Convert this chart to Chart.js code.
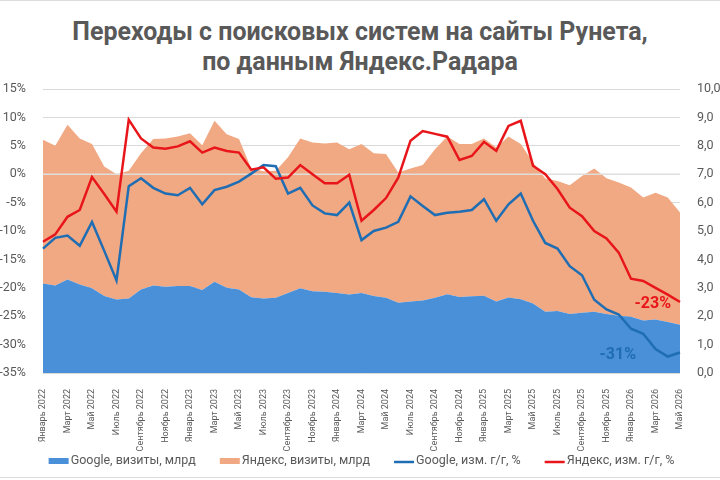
<!DOCTYPE html>
<html lang="ru">
<head>
<meta charset="utf-8">
<title>Переходы с поисковых систем</title>
<script src="https://cdn.jsdelivr.net/npm/chart.js@4.4.1/dist/chart.umd.min.js"></script>
<style>
    html, body { margin: 0; padding: 0; background: #fff; overflow: hidden; }
    body { width: 720px; height: 480px; position: relative; }
    #frame { position: absolute; left: 0; top: 0; width: 720px; height: 478px; border-top: 1px solid #dcdcdc; border-bottom: 1px solid #dcdcdc; box-sizing: border-box; }
    #titulo {
        position: absolute; left: 0; top: 16px; width: 720px; text-align: center;
        font-family: 'Roboto', 'Noto Sans', sans-serif;
        font-weight: bold; font-size: 26px; line-height: 30px; color: #595959;
        transform: scaleX(0.96); transform-origin: 360px 0;
    }
    #wrap { position: absolute; left: 0; top: 0; width: 720px; height: 480px; }
</style>
</head>
<body>
<div id="frame"></div>
<div id="titulo">Переходы с поисковых систем на сайты Рунета,<br>по данным Яндекс.Радара</div>
<div id="wrap"><canvas id="grafico"></canvas></div>
<script>
// Categorias: meses de Январь 2022 a Май 2026
const meses = ['Январь', 'Февраль', 'Март', 'Апрель', 'Май', 'Июнь',
    'Июль', 'Август', 'Сентябрь', 'Октябрь', 'Ноябрь', 'Декабрь'];
const anos = [2022, 2023, 2024, 2025, 2026];
const ultimoMes = 5; // май 2026

// Визиты, млрд (eixo direito, empilhado)
const googleVisitas = [3.15, 3.08, 3.29, 3.12, 2.98, 2.71, 2.59, 2.62, 2.94, 3.08, 3.04, 3.06,
    3.06, 2.92, 3.21, 3.00, 2.94, 2.67, 2.62, 2.65, 2.82, 2.98, 2.88, 2.86,
    2.82, 2.76, 2.82, 2.71, 2.65, 2.47, 2.52, 2.55, 2.65, 2.77, 2.68, 2.70,
    2.72, 2.52, 2.66, 2.60, 2.45, 2.16, 2.18, 2.08, 2.12, 2.16, 2.08, 2.02,
    1.98, 1.85, 1.88, 1.80, 1.70];
const yandexVisitas = [5.06, 4.92, 5.45, 5.14, 5.08, 4.56, 4.41, 4.50, 4.80, 5.16, 5.22, 5.27,
    5.38, 5.10, 5.67, 5.41, 5.30, 4.53, 4.48, 4.47, 4.78, 5.28, 5.24, 5.22,
    5.30, 5.12, 5.24, 5.03, 5.06, 4.59, 4.68, 4.77, 5.23, 5.56, 5.38, 5.36,
    5.54, 5.42, 5.67, 5.46, 4.96, 4.69, 4.58, 4.53, 4.82, 5.04, 4.78, 4.69,
    4.55, 4.33, 4.47, 4.38, 3.95];

// Изм. г/г, % (eixo esquerdo)
const googleVariacao = [-13.1, -11.2, -10.8, -12.6, -8.4, -13.5, -18.7, -2.1, -0.7, -2.4, -3.4, -3.7,
    -2.4, -5.3, -2.8, -2.2, -1.3, 0.1, 1.6, 1.4, -3.4, -2.4, -5.5, -6.9,
    -7.2, -5.0, -11.6, -10.0, -9.4, -8.4, -3.9, -5.6, -7.2, -6.8, -6.6, -6.3,
    -4.4, -8.2, -5.3, -3.4, -8.2, -12.1, -13.1, -16.2, -17.8, -22.1, -23.8, -24.7,
    -27.2, -28.1, -30.8, -32.1, -31.4];
const yandexVariacao = [-11.9, -10.6, -7.5, -6.3, -0.5, -3.5, -6.6, 9.6, 6.3, 4.7, 4.5, 4.9,
    5.8, 3.8, 4.7, 4.1, 3.8, 0.8, 1.2, -0.8, -0.6, 1.6, 0.0, -1.6,
    -1.6, -0.1, -8.2, -6.3, -4.2, -0.6, 5.9, 7.6, 7.1, 6.6, 2.5, 3.2,
    5.7, 4.1, 8.5, 9.4, 1.5, 0.0, -2.6, -5.9, -7.4, -10.0, -11.3, -13.8,
    -18.4, -18.8, -20.0, -21.2, -22.5];

// Rótulos finais das linhas
const rotulosFinais = ['-31%', '-23%'];

const labels = [];
anos.forEach(ano => {
    meses.forEach((mes, m) => {
        if (ano < anos[anos.length - 1] || m < ultimoMes) labels.push(mes + ' ' + ano);
    });
});

const corTexto = '#595959';
const fonte = 'Roboto, "Noto Sans", sans-serif';

// Linha do zero por cima das áreas (como o eixo do Excel)
const linhaZero = {
    id: 'linhaZero',
    afterDatasetDraw(chart, args) {
        if (args.index !== 0) return;
        const { ctx, chartArea } = chart;
        const y = chart.scales.yEsq.getPixelForValue(0);
        ctx.save();
        ctx.strokeStyle = '#dedede';
        ctx.lineWidth = 1.5;
        ctx.beginPath();
        ctx.moveTo(chartArea.left, y);
        ctx.lineTo(chartArea.right, y);
        ctx.stroke();
        ctx.restore();
    }
};

// Rótulos "-31%" e "-23%" no fim das linhas
const rotulos = {
    id: 'rotulos',
    afterDatasetsDraw(chart) {
        const { ctx } = chart;
        const ajustes = [{ ds: 2, dx: -44, cor: '#1f6db3' }, { ds: 3, dx: -9, cor: '#e8161a' }];
        ctx.save();
        ctx.font = 'bold 16px ' + fonte;
        ctx.textAlign = 'right';
        ctx.textBaseline = 'middle';
        ajustes.forEach((a, i) => {
            const pts = chart.getDatasetMeta(a.ds).data;
            const p = pts[pts.length - 1];
            ctx.fillStyle = a.cor;
            ctx.fillText(rotulosFinais[i], p.x + a.dx, p.y + 2);
        });
        ctx.restore();
    }
};

// Legenda desenhada à mão (caixas baixas e traços, como no Excel)
const legenda = {
    id: 'legenda',
    afterDraw(chart) {
        const { ctx } = chart;
        const yc = 461;
        const larguraMarca = 20, folgaTexto = 2, folgaItem = 24;
        ctx.save();
        ctx.font = '12.5px ' + fonte;
        ctx.textBaseline = 'middle';
        const itens = chart.data.datasets.map(ds => ({
            texto: ds.label,
            tipo: ds.pointStyle,
            cor: ds.pointStyle === 'line' ? ds.borderColor : ds.backgroundColor,
            largura: larguraMarca + folgaTexto + ctx.measureText(ds.label).width
        }));
        const total = itens.reduce((s, it) => s + it.largura, 0) + folgaItem * (itens.length - 1);
        let x = chart.width / 2 + 1.5 - total / 2;
        itens.forEach(it => {
            if (it.tipo === 'line') {
                ctx.strokeStyle = it.cor;
                ctx.lineWidth = 2.5;
                ctx.beginPath();
                ctx.moveTo(x, yc + 1);
                ctx.lineTo(x + larguraMarca, yc + 1);
                ctx.stroke();
            } else {
                ctx.fillStyle = it.cor;
                ctx.fillRect(x, yc - 3, larguraMarca, 6);
            }
            ctx.fillStyle = corTexto;
            ctx.fillText(it.texto, x + larguraMarca + folgaTexto, yc);
            x += it.largura + folgaItem;
        });
        ctx.restore();
    }
};

const config = {
    type: 'line',
    data: {
        labels: labels,
        datasets: [
            {
                label: 'Google, визиты, млрд',
                data: googleVisitas,
                yAxisID: 'yDir',
                backgroundColor: '#4a90d9',
                borderColor: '#4a90d9',
                borderWidth: 0,
                pointRadius: 0,
                fill: 'origin',
                pointStyle: 'rect',
                order: 1
            },
            {
                label: 'Яндекс, визиты, млрд',
                data: yandexVisitas,
                yAxisID: 'yDir',
                backgroundColor: '#f1a983',
                borderColor: '#f1a983',
                borderWidth: 0,
                pointRadius: 0,
                fill: '-1',
                pointStyle: 'rect',
                order: 1
            },
            {
                label: 'Google, изм. г/г, %',
                data: googleVariacao,
                yAxisID: 'yEsq',
                borderColor: '#1f6db3',
                backgroundColor: '#1f6db3',
                borderWidth: 2.5,
                pointRadius: 0,
                fill: false,
                pointStyle: 'line',
                order: 0.5
            },
            {
                label: 'Яндекс, изм. г/г, %',
                data: yandexVariacao,
                yAxisID: 'yEsq',
                borderColor: '#e8161a',
                backgroundColor: '#e8161a',
                borderWidth: 2.5,
                pointRadius: 0,
                fill: false,
                pointStyle: 'line',
                order: 0
            }
        ]
    },
    options: {
        responsive: true,
        maintainAspectRatio: false,
        animation: false,
        layout: { padding: { top: 89, left: 0, right: 0, bottom: 0 } },
        scales: {
            x: {
                grid: { display: false },
                border: { display: false },
                ticks: {
                    autoSkip: false,
                    maxRotation: 90,
                    minRotation: 90,
                    padding: 8,
                    color: corTexto,
                    font: { family: fonte, size: 9 },
                    callback: function(valor, i) {
                        return i % 2 === 0 ? this.getLabelForValue(valor) : '';
                    }
                },
                afterFit: (escala) => { escala.height = 107; }
            },
            yEsq: {
                position: 'left',
                min: -35,
                max: 15,
                grid: { color: '#d9d9d9', drawTicks: false },
                border: { display: false },
                ticks: {
                    stepSize: 5,
                    padding: 17,
                    color: corTexto,
                    font: { family: fonte, size: 12.5 },
                    callback: (v) => v + '%'
                },
                afterFit: (escala) => { escala.width = 43; }
            },
            yDir: {
                position: 'right',
                stacked: true,
                min: 0,
                max: 10,
                grid: { display: false, drawTicks: false },
                border: { display: false },
                ticks: {
                    stepSize: 1,
                    padding: 17,
                    color: corTexto,
                    font: { family: fonte, size: 12.5 },
                    callback: (v) => v.toFixed(1).replace('.', ',')
                },
                afterFit: (escala) => { escala.width = 40; }
            }
        },
        plugins: {
            tooltip: { enabled: false },
            legend: { display: false }
        }
    },
    plugins: [linhaZero, rotulos, legenda]
};

new Chart(document.getElementById('grafico'), config);
</script>
</body>
</html>
